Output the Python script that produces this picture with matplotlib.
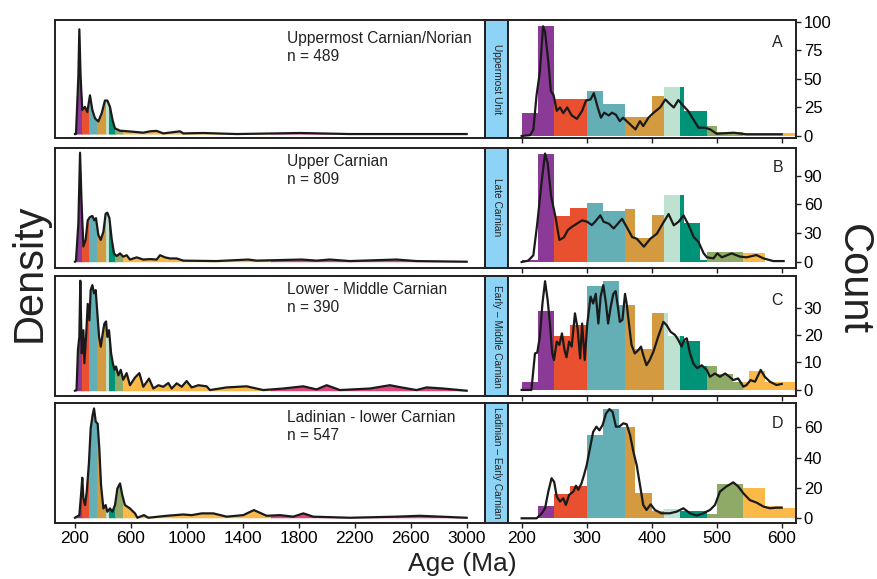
import matplotlib.pyplot as plt
from matplotlib.patches import Rectangle

plt.rcParams['font.family'] = ['Liberation Sans', 'DejaVu Sans']

# Period boundaries (Ma) and colours
period_edges = [0, 252, 299, 359, 419, 443, 485, 541, 1000, 1600, 2500, 5000]
period_colors = ['#8B3A98', '#E9502F', '#64AEB6', '#D49A3F', '#BFE1D0', '#009378',
                 '#8FAA66', '#FBB94A', '#FBB94A', '#E2457E', '#E2457E']

letters = ['A', 'B', 'C', 'D']
units = ['Uppermost Unit', 'Late Carnian', 'Early – Middle Carnian', 'Ladinian – Early Carnian']
samples = ['Uppermost Carnian/Norian', 'Upper Carnian', 'Lower - Middle Carnian', 'Ladinian - lower Carnian']
n_grains = [489, 809, 390, 547]

# Left: density curves (relative, peak = 100)
kde_a_age = [200, 207, 224, 231, 240, 252, 271, 288, 307, 324, 343, 367, 391, 414, 431, 450, 469, 486,
             522, 617, 688, 736, 784, 831, 951, 974, 1117, 1356, 1808, 2166, 3000]
kde_a_dens = [0, 0, 55, 100, 55, 23, 26, 21, 37, 23, 15, 12, 20, 32, 32, 26, 13, 5.4,
              3.2, 2.2, 1.3, 2.6, 3, 0.6, 2.6, 0.6, 1, 0, 1, 0, 0]
kde_b_age = [200, 207, 224, 236, 248, 260, 276, 291, 307, 324, 338, 350, 367, 384, 403, 419, 431, 446,
             462, 479, 498, 522, 545, 569, 593, 641, 688, 736, 784, 808, 843, 879, 927, 974, 1212,
             1438, 1498, 1820, 1927, 2022, 2165, 2498, 2641, 3000]
kde_b_dens = [0, 1, 35, 100, 50, 14, 20, 38, 41, 42, 38, 40, 24.5, 20, 27.5, 44, 45, 40,
              21, 7.6, 5.2, 7.6, 4.6, 6, 2, 4, 2, 2.4, 2, 6, 4, 3, 3, 1, 0.6,
              2, 1, 2, 1, 2, 0.6, 2, 0.6, 0]
kde_c_age = [200, 211, 221, 231, 238, 248, 260, 267, 279, 291, 303, 312, 324, 336, 348, 360, 372, 384,
             398, 410, 422, 431, 443, 458, 469, 482, 493, 510, 527, 545, 569, 593, 629, 660, 688, 729,
             760, 796, 831, 867, 891, 927, 963, 998, 1034, 1082, 1141, 1165, 1284, 1427, 1546, 1689,
             1832, 1927, 1999, 2094, 2308, 2451, 2534, 2641, 2713, 2832, 3000]
kde_c_dens = [0, 0.6, 37, 49, 100, 34, 55, 25, 49, 79, 64, 91.5, 96, 88.5, 91.5, 70, 49, 40,
              52, 61, 63, 49, 55, 34, 26, 19, 22, 14, 19, 10, 16, 5, 12, 16, 3.6, 11,
              2, 5, 3.6, 7, 2, 6.7, 3.6, 8.8, 3, 5, 4, 0.6, 3, 4, 0.6, 2,
              4, 1.2, 5, 0.6, 2, 5, 3, 0.6, 3, 2, 0]
kde_d_age = [200, 231, 243, 252, 260, 272, 284, 300, 312, 326, 336, 348, 362, 374, 386, 403, 419, 431,
             450, 467, 486, 503, 522, 538, 557, 593, 629, 646, 693, 724, 855, 974, 1034, 1105, 1189,
             1284, 1403, 1479, 1570, 1665, 1760, 1832, 1903, 2165, 2498, 2665, 3000]
kde_d_dens = [0, 2.4, 20.7, 36.6, 17.7, 11.6, 23.8, 51, 81.7, 94, 100, 88, 86, 63, 30, 8.5, 11.6, 5.5,
              8.5, 5.5, 11.6, 26.8, 31.4, 20.7, 11.6, 8.5, 4, 0, 2.4, 0, 1.8, 3, 2.4, 4, 4,
              1, 2.4, 7, 1.8, 2.4, 1, 4, 1, 0, 1, 1.8, 0]

# Right: histogram counts (200-625 Ma) and KDE curves
bin_edges = [200, 225, 250, 275, 300, 325, 350, 359, 375, 400, 419, 425, 443, 450, 475, 485,
             500, 525, 541, 550, 575, 600, 625]
counts_a = [20, 96, 32, 32, 39, 28, 28, 17, 17, 35, 43, 43, 43, 22, 22, 9, 3.5, 3.5, 3, 3, 3, 3]
counts_b = [2, 113, 48, 56.6, 62, 52.8, 52.8, 55, 25, 49, 70, 70, 70, 41, 2, 10, 10, 10, 9, 9, 0, 0]
counts_c = [2.8, 28.8, 19.8, 23.6, 37.8, 39.6, 31, 31, 14.8, 27.9, 27.9, 19.8, 19.8, 18, 8.7, 8.7,
            5.8, 3, 3, 6.9, 2.8, 2.8]
counts_d = [0, 8.1, 15.8, 21.3, 55, 71.9, 60, 60, 16.9, 4.8, 5.9, 5.9, 4.5, 4.5, 4.5, 3, 22.4, 22.4,
            20.2, 20.2, 8.1, 7]

rkde_a_age = [200, 213, 218, 223, 228, 231, 233, 236, 241, 245, 249, 254, 259, 264, 270, 277, 285, 293,
              299, 306, 311, 317, 322, 327, 334, 339, 345, 351, 356, 364, 375, 382, 387, 395, 403, 413,
              421, 428, 434, 441, 446, 456, 464, 472, 482, 490, 500, 526, 546, 572, 600]
rkde_a_val = [0, 0.8, 5.6, 36, 56, 80, 96, 91, 65, 39, 36, 22, 25, 20, 25, 18, 15, 22,
              31, 32, 37.5, 25, 16, 20.4, 18, 20.4, 18.6, 13, 16, 11.7, 5.8, 13, 8.7, 16, 20.4, 25,
              32, 28, 25, 31.5, 28, 22, 14.6, 7.3, 7.3, 5.8, 2, 2.9, 1.5, 1.5, 1.5]
rkde_b_age = [200, 210, 218, 224, 231, 236, 240, 245.5, 252, 258, 265, 271, 277.5, 285, 293, 300.6, 308,
              313, 321, 326, 334, 341.5, 348, 354.5, 362, 370, 377, 388, 398, 408, 417, 426, 434, 441.5,
              449, 457, 464.6, 472, 480, 485, 495, 501, 508, 523, 536, 546, 561, 572, 587, 603]
rkde_b_val = [0, 1.4, 7, 40, 85, 113, 103, 68, 47, 23, 25.7, 33.3, 36.8, 40, 43.4, 42, 38.5,
              42, 48.6, 42, 40, 35, 40, 45, 36, 26, 24.3, 16, 24.3, 29.5, 40, 50, 38.2, 42,
              48.6, 38.2, 26, 21, 9, 4.9, 3.8, 9, 4.9, 9, 5.6, 4.9, 7.3, 3.8, 1, 1]
rkde_c_age = [200, 215, 220.5, 224, 228, 232, 236, 240, 243.6, 247, 249.7, 254, 258, 262, 266, 269, 273,
              277, 282, 286, 290, 293, 297, 301, 306, 310, 314, 318, 321.5, 325.6, 329.7, 333, 337, 341,
              344.6, 348, 351, 355, 359, 361.5, 365.6, 369, 374, 379.5, 383.6, 387, 392, 397, 402.6,
              410, 418, 423, 429, 436, 441, 446, 450, 454, 459, 464, 470, 477, 484.6, 489.7, 497.4,
              505, 513, 518, 525.6, 533, 541, 546, 552, 559, 567.7, 574, 582, 592, 600]
rkde_c_val = [0, 0, 13.3, 13.6, 19.4, 31.5, 39.6, 32.7, 24, 13.3, 10.9, 17.6, 16.4, 20.6, 14.5, 11.9, 17.6,
              15.8, 27.9, 22.4, 11.5, 24.2, 10.9, 24.2, 34, 31.5, 35, 24.2, 34, 38.2, 31.5, 24.2, 30.3, 35,
              36, 30.3, 24.8, 25.5, 35, 31.5, 23, 16.4, 13.3, 14.5, 15.8, 12.7, 9, 10.9, 13.9,
              19.4, 24.8, 23.6, 21.2, 20, 18.2, 15.8, 18.2, 18.8, 13.3, 9.7, 7.9, 9, 7.3, 4.8, 6,
              4.8, 6, 5.1, 3.6, 4.2, 1.2, 1.8, 3.6, 3, 7.3, 4.8, 3, 1.8, 2.2]
rkde_d_age = [200, 223, 231, 236, 241, 246, 250, 254, 259, 264, 268, 273, 279.5, 283.6, 287, 292, 296,
              300, 305, 310, 315, 319.5, 324.6, 329.7, 335, 340, 345, 350, 356.4, 361.5, 366.7, 371.8,
              377, 382, 387, 392, 398.5, 405, 415, 428, 438.5, 448.7, 459, 469, 479.5, 489.7, 497.4,
              505, 515, 525.6, 533, 541, 551, 561.5, 572, 582, 592, 600]
rkde_d_val = [0, 0, 3.3, 6.6, 17.6, 26.4, 24, 14.3, 11, 13.2, 8.8, 15.4, 17.6, 21.5, 18.7, 23, 28.6,
              35, 46, 57, 60.4, 58, 61.5, 69, 72, 70, 60.4, 60.4, 62.6, 62, 55, 44,
              35, 22, 8.8, 5.5, 9.2, 5.5, 3.3, 3.3, 4.4, 6.6, 3.3, 1.8, 3.3, 5.5, 8.8,
              17.6, 21, 23.7, 21, 16.5, 12, 10.3, 7.7, 6.6, 7, 7]

left_curves = [(kde_a_age, kde_a_dens), (kde_b_age, kde_b_dens), (kde_c_age, kde_c_dens), (kde_d_age, kde_d_dens)]
right_counts = [counts_a, counts_b, counts_c, counts_d]
right_curves = [(rkde_a_age, rkde_a_val), (rkde_b_age, rkde_b_val), (rkde_c_age, rkde_c_val), (rkde_d_age, rkde_d_val)]
right_ticks = [[0, 25, 50, 75, 100], [0, 30, 60, 90], [0, 10, 20, 30], [0, 20, 40, 60]]

# layout (pixels)
W, H = 877, 579
rows_top = [20, 147.5, 276, 403]
rows_bot = [137.5, 267.5, 396, 523]
left_ylim = [(-3.3, 108.9), (-5.3, 104.8), (-4.8, 104.3), (-4.8, 105)]
right_ylim = [(-1.3, 101.5), (-5.7, 119.3), (-2.2, 41.5), (-3.1, 76)]
note_y = [11, 6, 6, 7]
letter_y = [15, 12, 17, 13]
spine_col = '#231F20'


def px_rect(x0, x1, y0, y1):
    return [x0 / W, 1 - y1 / H, (x1 - x0) / W, (y1 - y0) / H]


def color_of(age):
    for lo, hi, c in zip(period_edges[:-1], period_edges[1:], period_colors):
        if lo <= age < hi:
            return c
    return period_colors[-1]


def style_spines(ax):
    for s in ax.spines.values():
        s.set_color(spine_col)
        s.set_linewidth(1.4)


fig = plt.figure(figsize=(W / 100, H / 100), dpi=100)

for i in range(4):
    y0, y1 = rows_top[i], rows_bot[i]
    h = y1 - y0

    # left density panel
    axl = fig.add_axes(px_rect(55, 485, y0, y1))
    ages, dens = left_curves[i]
    for lo, hi, c in zip(period_edges[:-1], period_edges[1:], period_colors):
        poly = axl.fill_between(ages, dens, 0, color=c, linewidth=0)
        poly.set_clip_path(Rectangle((lo, -50), hi - lo, 300, transform=axl.transData))
    axl.plot(ages, dens, color='#1a1a1a', lw=1.6, solid_joinstyle='round')
    axl.set_xlim(57, 3131)
    axl.set_ylim(*left_ylim[i])
    axl.set_yticks([])
    axl.set_xticks(range(200, 3001, 400))
    axl.tick_params(axis='x', length=3.5, width=1, labelsize=12.5, pad=2, color=spine_col)
    if i < 3:
        axl.tick_params(axis='x', length=0, labelbottom=False)
    style_spines(axl)
    axl.text(0.54, 1 - note_y[i] / h, f'{samples[i]}\nn = {n_grains[i]}',
             transform=axl.transAxes, ha='left', va='top', fontsize=11.2, color='#222222',
             linespacing=1.25)

    # blue unit strip
    axs = fig.add_axes(px_rect(485, 508, y0, y1))
    axs.set_facecolor('#8CD3F5')
    axs.set_xticks([])
    axs.set_yticks([])
    style_spines(axs)
    axs.text(0.5, 0.5, units[i], rotation=-90, ha='center', va='center',
             fontsize=7.3, color='#222222', transform=axs.transAxes)

    # right histogram panel
    axr = fig.add_axes(px_rect(508, 796, y0, y1))
    lefts = bin_edges[:-1]
    widths = [b - a for a, b in zip(bin_edges[:-1], bin_edges[1:])]
    cols = [color_of((a + b) / 2) for a, b in zip(bin_edges[:-1], bin_edges[1:])]
    axr.bar(lefts, right_counts[i], width=widths, align='edge', color=cols, linewidth=0)
    rx, ry = right_curves[i]
    axr.plot(rx, ry, color='#1a1a1a', lw=1.6, solid_joinstyle='round')
    axr.set_xlim(179, 622)
    axr.set_ylim(*right_ylim[i])
    axr.yaxis.tick_right()
    axr.set_yticks(right_ticks[i])
    axr.set_xticks(range(200, 601, 100))
    axr.tick_params(axis='y', length=3.5, width=1, labelsize=12, pad=2, color=spine_col)
    axr.tick_params(axis='x', length=3.5, width=1, labelsize=12.5, pad=2, color=spine_col)
    if i < 3:
        axr.tick_params(axis='x', labelbottom=False)
    style_spines(axr)
    axr.text(0.955, 1 - letter_y[i] / h, letters[i], transform=axr.transAxes,
             ha='right', va='top', fontsize=11.5, color='#222222')

fig.text(30 / W, 1 - 273 / H, 'Density', rotation=90, ha='center', va='center', fontsize=30, color='#222222')
fig.text(853 / W, 1 - 280 / H, 'Count', rotation=-90, ha='center', va='center', fontsize=30, color='#222222')
fig.text(462 / W, 1 - 564 / H, 'Age (Ma)', ha='center', va='center', fontsize=19, color='#222222')

fig.savefig('out.png', dpi=100)
